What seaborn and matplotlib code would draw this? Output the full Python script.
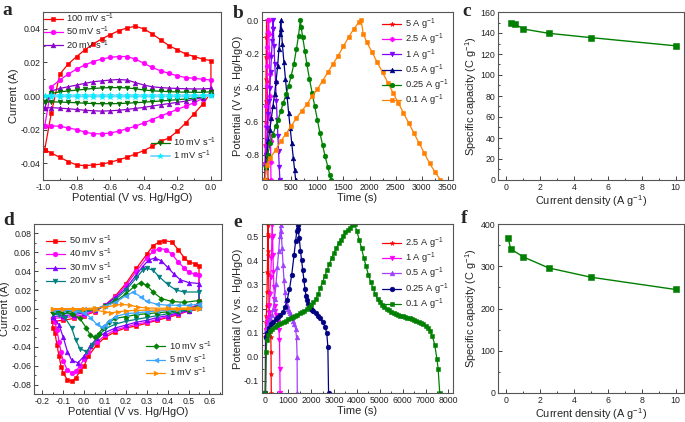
import matplotlib
matplotlib.use("Agg")
import matplotlib.pyplot as plt
import pandas as pd
import seaborn as sns
from matplotlib.ticker import MultipleLocator, AutoMinorLocator

sns.set_style("ticks")
plt.rcParams["font.family"] = ["Liberation Sans", "DejaVu Sans"]
plt.rcParams["mathtext.default"] = "regular"
plt.rcParams["axes.unicode_minus"] = False

# ---------------- panel a : CV, potential grid shared by all loops
pot_a = [-0.99, -0.95, -0.90, -0.85, -0.80, -0.75, -0.70, -0.65, -0.60, -0.55, -0.50,
         -0.45, -0.40, -0.35, -0.30, -0.25, -0.20, -0.15, -0.10, -0.05, 0.0]
a_up_100 = [-0.032, -0.010, 0.013, 0.019, 0.0235, 0.0275, 0.031, 0.034, 0.0365, 0.0388, 0.0405,
            0.0415, 0.040, 0.037, 0.0335, 0.030, 0.0275, 0.025, 0.0235, 0.022, 0.021]
a_dn_100 = [-0.032, -0.034, -0.0365, -0.039, -0.041, -0.0415, -0.041, -0.0405, -0.0395, -0.038, -0.0365,
            -0.0345, -0.0325, -0.030, -0.027, -0.025, -0.021, -0.016, -0.0105, -0.005, 0.002]
a_up_50 = [-0.018, 0.0055, 0.0095, 0.013, 0.016, 0.0185, 0.0205, 0.022, 0.023, 0.0235, 0.0235,
           0.022, 0.0195, 0.017, 0.015, 0.0135, 0.012, 0.011, 0.0105, 0.010, 0.0095]
a_dn_50 = [-0.018, -0.0178, -0.018, -0.019, -0.020, -0.0215, -0.0225, -0.0225, -0.022, -0.021, -0.0195,
           -0.018, -0.016, -0.014, -0.012, -0.010, -0.008, -0.006, -0.004, -0.0015, 0.002]
a_up_20 = [-0.007, 0.003, 0.0045, 0.0055, 0.0065, 0.0075, 0.0085, 0.009, 0.0095, 0.0098, 0.0095,
           0.008, 0.0065, 0.0055, 0.005, 0.0047, 0.0045, 0.0043, 0.0042, 0.0042, 0.0045]
a_dn_20 = [-0.007, -0.007, -0.0072, -0.0076, -0.008, -0.0085, -0.0088, -0.009, -0.0088, -0.0085, -0.008,
           -0.0074, -0.0068, -0.006, -0.0052, -0.0045, -0.0038, -0.003, -0.002, -0.001, 0.001]
a_up_10 = [-0.0035, 0.0015, 0.0025, 0.003, 0.0035, 0.004, 0.0045, 0.0048, 0.005, 0.005, 0.0048,
           0.0043, 0.0036, 0.0031, 0.0028, 0.0026, 0.0024, 0.0023, 0.0022, 0.0022, 0.0025]
a_dn_10 = [-0.0035, -0.0035, -0.0036, -0.0038, -0.004, -0.0043, -0.0045, -0.0046, -0.0046, -0.0045, -0.0043,
           -0.004, -0.0037, -0.0033, -0.003, -0.0026, -0.0022, -0.0018, -0.0012, -0.0006, 0.0005]
a_up_1 = [0.0, 0.0004, 0.0004, 0.0004, 0.0004, 0.0004, 0.0004, 0.0004, 0.0004, 0.0004, 0.0004,
          0.0004, 0.0004, 0.0004, 0.0004, 0.0004, 0.0004, 0.0004, 0.0004, 0.0004, 0.0005]
a_dn_1 = [0.0, -0.0003, -0.0003, -0.0003, -0.0003, -0.0003, -0.0003, -0.0003, -0.0003, -0.0003, -0.0003,
          -0.0003, -0.0003, -0.0003, -0.0003, -0.0003, -0.0003, -0.0003, -0.0002, -0.0001, 0.0002]

# ---------------- panel b : GCD
b_t_5 = [0, 1, 4, 8, 12, 16, 20, 24, 28, 31, 35, 39, 43, 47, 51, 55]
b_v_5 = [-0.95, -0.85, -0.74, -0.61, -0.48, -0.35, -0.22, -0.10, 0.0, -0.08, -0.22, -0.36, -0.50, -0.65, -0.80, -0.95]
b_t_25 = [0, 2, 8, 15, 22, 30, 38, 45, 52, 58, 70, 74, 80, 86, 92, 98, 104, 108, 112]
b_v_25 = [-0.95, -0.85, -0.75, -0.63, -0.51, -0.39, -0.27, -0.16, -0.07, 0.0, 0.0, -0.08, -0.20, -0.32, -0.45,
          -0.58, -0.72, -0.84, -0.95]
b_t_1 = [0, 4, 15, 30, 45, 60, 75, 90, 105, 120, 135, 145, 150, 158, 170, 185, 200, 215, 230, 245, 258, 270, 283]
b_v_1 = [-0.95, -0.87, -0.80, -0.72, -0.64, -0.56, -0.48, -0.40, -0.31, -0.22, -0.12, -0.05, 0.0,
         -0.05, -0.15, -0.26, -0.37, -0.48, -0.59, -0.69, -0.78, -0.87, -0.95]
b_t_05 = [0, 8, 30, 60, 90, 120, 150, 180, 210, 240, 265, 285, 300,
          310, 330, 360, 390, 420, 450, 480, 510, 540, 565, 585]
b_v_05 = [-0.95, -0.87, -0.80, -0.72, -0.65, -0.58, -0.51, -0.44, -0.36, -0.27, -0.17, -0.08, 0.0,
          -0.05, -0.14, -0.25, -0.35, -0.45, -0.55, -0.64, -0.73, -0.82, -0.89, -0.95]
b_t_025 = [0, 15, 50, 100, 150, 200, 250, 300, 350, 400, 450, 500, 550, 600, 640, 675,
           690, 720, 760, 800, 850, 900, 950, 1000, 1050, 1100, 1150, 1200, 1240, 1265]
b_v_025 = [-0.95, -0.87, -0.80, -0.73, -0.68, -0.63, -0.59, -0.54, -0.49, -0.44, -0.39, -0.33, -0.26, -0.17,
           -0.09, 0.0, -0.04, -0.10, -0.18, -0.26, -0.35, -0.43, -0.51, -0.59, -0.67, -0.74, -0.81, -0.87,
           -0.92, -0.95]
b_t_01 = [0, 30, 100, 200, 300, 400, 500, 600, 700, 800, 900, 1000, 1100, 1200, 1300, 1400, 1500, 1600,
          1700, 1800, 1840, 1880, 1950, 2050, 2150, 2250, 2350, 2450, 2550, 2650, 2750, 2850, 2950, 3050,
          3150, 3250, 3360]
b_v_01 = [-0.95, -0.86, -0.82, -0.77, -0.72, -0.675, -0.63, -0.58, -0.54, -0.50, -0.45, -0.41, -0.36,
          -0.31, -0.26, -0.21, -0.155, -0.10, -0.05, -0.01, 0.0, -0.08, -0.13, -0.19, -0.25, -0.31, -0.37,
          -0.43, -0.49, -0.55, -0.61, -0.67, -0.73, -0.79, -0.85, -0.90, -0.95]

# ---------------- panel c / f : rate capability
c_density = [0.25, 0.5, 1, 2.5, 5, 10]
c_capacity = [149.6, 148.5, 143.8, 139.7, 135.6, 127.8]
f_density = [0.1, 0.25, 1, 2.5, 5, 10]
f_capacity = [367, 341, 322, 296, 274, 245]

# ---------------- panel d : CV
d_x_50 = [-0.15, -0.10, -0.05, 0.0, 0.05, 0.10, 0.15, 0.20, 0.25, 0.30, 0.33, 0.36, 0.38, 0.42, 0.45, 0.48,
          0.50, 0.53, 0.55, 0.55, 0.52, 0.50, 0.45, 0.40, 0.35, 0.30, 0.25, 0.20, 0.15, 0.10, 0.06, 0.02,
          0.0, -0.02, -0.04, -0.06, -0.08, -0.10, -0.11, -0.12, -0.13, -0.14, -0.15, -0.15]
d_y_50 = [-0.013, -0.012, -0.010, -0.007, -0.003, 0.004, 0.014, 0.027, 0.043, 0.058, 0.067, 0.071, 0.0725,
          0.071, 0.063, 0.054, 0.050, 0.048, 0.046, 0.008, 0.001, -0.002, -0.006, -0.009, -0.012, -0.015,
          -0.018, -0.020, -0.024, -0.030, -0.038, -0.050, -0.060, -0.066, -0.073, -0.0765, -0.075, -0.068,
          -0.061, -0.050, -0.038, -0.025, -0.020, -0.013]
d_x_40 = [-0.15, -0.10, -0.05, 0.0, 0.05, 0.10, 0.15, 0.20, 0.25, 0.30, 0.33, 0.36, 0.39, 0.42, 0.45, 0.48,
          0.50, 0.53, 0.55, 0.55, 0.50, 0.45, 0.40, 0.35, 0.30, 0.25, 0.20, 0.15, 0.10, 0.06, 0.02, 0.0,
          -0.02, -0.04, -0.06, -0.08, -0.10, -0.11, -0.12, -0.13, -0.14, -0.15]
d_y_40 = [-0.010, -0.009, -0.008, -0.006, -0.002, 0.004, 0.013, 0.025, 0.040, 0.054, 0.061, 0.064, 0.063,
          0.058, 0.050, 0.043, 0.039, 0.037, 0.036, 0.006, -0.002, -0.005, -0.008, -0.011, -0.014, -0.016,
          -0.019, -0.022, -0.028, -0.035, -0.046, -0.053, -0.060, -0.066, -0.0675, -0.065, -0.055, -0.046,
          -0.035, -0.022, -0.014, -0.010]
d_x_30 = [-0.15, -0.10, -0.05, 0.0, 0.05, 0.10, 0.15, 0.20, 0.25, 0.28, 0.31, 0.34, 0.37, 0.40, 0.43, 0.46,
          0.50, 0.55, 0.55, 0.50, 0.45, 0.40, 0.35, 0.30, 0.25, 0.20, 0.15, 0.10, 0.06, 0.03, 0.0, -0.03,
          -0.06, -0.08, -0.10, -0.12, -0.15]
d_y_30 = [-0.008, -0.007, -0.006, -0.004, -0.001, 0.004, 0.012, 0.022, 0.036, 0.045, 0.052, 0.054, 0.051,
          0.044, 0.037, 0.031, 0.028, 0.027, 0.005, -0.002, -0.004, -0.007, -0.009, -0.012, -0.014, -0.017,
          -0.020, -0.025, -0.031, -0.039, -0.050, -0.057, -0.054, -0.045, -0.030, -0.017, -0.008]
d_x_20 = [-0.15, -0.10, -0.05, 0.0, 0.05, 0.10, 0.15, 0.20, 0.25, 0.28, 0.30, 0.33, 0.36, 0.40, 0.44, 0.48,
          0.55, 0.55, 0.50, 0.45, 0.40, 0.35, 0.30, 0.25, 0.20, 0.15, 0.10, 0.07, 0.04, 0.01, -0.02, -0.04,
          -0.06, -0.09, -0.12, -0.15]
d_y_20 = [-0.005, -0.005, -0.004, -0.003, -0.001, 0.003, 0.010, 0.020, 0.033, 0.041, 0.0435, 0.041, 0.034,
          0.026, 0.020, 0.018, 0.018, 0.004, -0.001, -0.003, -0.005, -0.007, -0.009, -0.011, -0.013, -0.016,
          -0.021, -0.028, -0.038, -0.045, -0.042, -0.033, -0.020, -0.010, -0.006, -0.005]
d_x_10 = [-0.15, -0.10, -0.05, 0.0, 0.05, 0.10, 0.15, 0.20, 0.24, 0.27, 0.30, 0.33, 0.37, 0.42, 0.48, 0.55,
          0.55, 0.50, 0.45, 0.40, 0.35, 0.30, 0.25, 0.20, 0.15, 0.12, 0.09, 0.07, 0.05, 0.03, 0.01, -0.02,
          -0.06, -0.10, -0.15]
d_y_10 = [-0.003, -0.003, -0.002, -0.002, 0.0, 0.003, 0.008, 0.016, 0.024, 0.028, 0.025, 0.018, 0.011,
          0.008, 0.007, 0.009, 0.002, -0.001, -0.002, -0.003, -0.004, -0.005, -0.006, -0.008, -0.010,
          -0.014, -0.020, -0.026, -0.030, -0.028, -0.020, -0.010, -0.005, -0.003, -0.003]
d_x_5 = [-0.15, -0.10, -0.05, 0.0, 0.05, 0.10, 0.15, 0.20, 0.235, 0.27, 0.30, 0.35, 0.40, 0.45, 0.50, 0.55,
         0.55, 0.50, 0.45, 0.40, 0.35, 0.30, 0.25, 0.20, 0.15, 0.12, 0.10, 0.085, 0.06, 0.03, 0.0, -0.05,
         -0.10, -0.15]
d_y_5 = [-0.001, -0.001, -0.001, -0.0005, 0.0005, 0.003, 0.007, 0.014, 0.018, 0.013, 0.008, 0.005, 0.004,
         0.004, 0.004, 0.005, 0.001, -0.0005, -0.001, -0.0015, -0.002, -0.003, -0.004, -0.005, -0.008,
         -0.013, -0.017, -0.019, -0.016, -0.009, -0.004, -0.002, -0.001, -0.001]
d_x_1 = [-0.15, -0.10, -0.05, 0.0, 0.05, 0.10, 0.15, 0.18, 0.22, 0.26, 0.30, 0.40, 0.50, 0.55,
         0.55, 0.45, 0.35, 0.25, 0.20, 0.16, 0.13, 0.10, 0.05, 0.0, -0.05, -0.10, -0.15]
d_y_1 = [0.0, 0.0, 0.0, 0.0005, 0.001, 0.002, 0.004, 0.005, 0.004, 0.002, 0.001, 0.0008, 0.001, 0.0015,
         0.0, -0.0005, -0.001, -0.0015, -0.002, -0.003, -0.004, -0.003, -0.001, 0.0, 0.0, 0.0, 0.0]

# ---------------- panel e : GCD
e_t_25 = [0, 3, 10, 25, 40, 55, 70, 85, 100, 112, 120, 125, 133, 141, 149, 157, 167, 180, 195, 210, 225,
          237, 245, 250, 255]
e_v_25 = [-0.15, 0.08, 0.11, 0.14, 0.17, 0.21, 0.27, 0.35, 0.44, 0.51, 0.545, 0.50, 0.42, 0.34, 0.27, 0.22,
          0.19, 0.17, 0.15, 0.13, 0.11, 0.08, 0.02, -0.07, -0.15]
e_t_1 = [0, 5, 20, 50, 80, 110, 140, 170, 200, 230, 260, 285, 300, 310, 330, 350, 370, 390, 410, 440, 470,
         500, 530, 560, 590, 615, 630, 640]
e_v_1 = [-0.15, 0.08, 0.11, 0.13, 0.145, 0.16, 0.18, 0.21, 0.26, 0.33, 0.41, 0.49, 0.545, 0.50, 0.42, 0.35,
         0.29, 0.24, 0.21, 0.19, 0.175, 0.16, 0.145, 0.13, 0.11, 0.07, -0.05, -0.15]
e_t_05 = [0, 10, 40, 100, 160, 220, 280, 340, 400, 460, 520, 580, 630, 670, 690, 730, 770, 810, 850, 890,
          930, 970, 1020, 1070, 1120, 1170, 1220, 1270, 1320, 1360, 1385, 1392]
e_v_05 = [-0.15, 0.08, 0.11, 0.13, 0.145, 0.16, 0.175, 0.20, 0.24, 0.30, 0.37, 0.44, 0.50, 0.545, 0.52,
          0.45, 0.38, 0.32, 0.27, 0.235, 0.215, 0.20, 0.19, 0.18, 0.17, 0.16, 0.15, 0.135, 0.115, 0.08, 0.0,
          -0.15]
e_t_025 = [0, 20, 60, 150, 250, 350, 450, 550, 650, 750, 850, 950, 1050, 1150, 1250, 1320, 1370, 1405,
           1430, 1480, 1530, 1580, 1630, 1680, 1730, 1780, 1830, 1880, 1930, 1980, 2030, 2100, 2200, 2300,
           2400, 2500, 2600, 2680, 2730, 2760]
e_v_025 = [-0.15, 0.08, 0.10, 0.12, 0.135, 0.145, 0.155, 0.163, 0.172, 0.185, 0.205, 0.235, 0.28, 0.34,
           0.42, 0.48, 0.52, 0.545, 0.53, 0.49, 0.44, 0.40, 0.36, 0.32, 0.28, 0.25, 0.235, 0.22, 0.21, 0.20,
           0.195, 0.19, 0.18, 0.17, 0.16, 0.145, 0.125, 0.10, 0.04, -0.15]
e_t_01 = [0, 30, 60, 120, 200, 300, 400, 500, 600, 700, 800, 900, 1000, 1100, 1200, 1300, 1400, 1500,
          1600, 1700, 1800, 1900, 2000, 2100, 2200, 2300, 2400, 2500, 2600, 2700, 2800, 2900, 3000, 3100,
          3200, 3300, 3400, 3500, 3600, 3700, 3800, 3900, 4000, 4100, 4200, 4300, 4400, 4500, 4600, 4700,
          4800, 4900, 5000, 5100, 5200, 5300, 5400, 5500, 5600, 5700, 5800, 5900, 6000, 6100, 6200, 6300,
          6400, 6500, 6600, 6700, 6800, 6900, 7000, 7100, 7200, 7300, 7400, 7500, 7550, 7620]
e_v_01 = [-0.15, 0.02, 0.07, 0.09, 0.105, 0.115, 0.125, 0.13, 0.135, 0.14, 0.145, 0.15, 0.155, 0.16,
          0.165, 0.17, 0.175, 0.18, 0.185, 0.19, 0.198, 0.206, 0.215, 0.226, 0.24, 0.26, 0.285, 0.31, 0.335,
          0.36, 0.385, 0.41, 0.43, 0.45, 0.47, 0.485, 0.50, 0.515, 0.525, 0.535, 0.545, 0.55, 0.52, 0.485,
          0.45, 0.41, 0.375, 0.34, 0.31, 0.285, 0.26, 0.24, 0.225, 0.213, 0.205, 0.198, 0.192, 0.187, 0.183,
          0.179, 0.175, 0.171, 0.168, 0.165, 0.162, 0.159, 0.156, 0.153, 0.149, 0.145, 0.14, 0.134, 0.127,
          0.118, 0.105, 0.085, 0.05, -0.01, -0.05, -0.15]


def draw(ax, x, y, color, marker, label, ms=3.2, lw=0.9, lc=None):
    df = pd.DataFrame({"x": x, "y": y})
    sns.lineplot(data=df, x="x", y="y", ax=ax, sort=False, estimator=None,
                 color=lc or color, marker=marker, markersize=ms, linewidth=lw,
                 markerfacecolor=color, markeredgecolor=color, markeredgewidth=0.4,
                 label=label)


def loop(grid, up, dn):
    return grid + grid[::-1], up + dn[::-1]


def rect(l, t, r, b):
    return [l / 685, 1 - b / 422, (r - l) / 685, (b - t) / 422]


def style(ax):
    ax.tick_params(which="both", direction="in", labelsize=6.3, pad=2, width=0.6,
                   colors="#222222", top=False, right=False)
    ax.tick_params(which="major", length=3)
    ax.tick_params(which="minor", length=1.6)
    ax.xaxis.set_minor_locator(AutoMinorLocator(2))
    ax.yaxis.set_minor_locator(AutoMinorLocator(2))
    for s in ax.spines.values():
        s.set_linewidth(0.8)
        s.set_color("#555555")


def legend(ax, handles, labels, **kw):
    return ax.legend(handles, labels, frameon=False, fontsize=6.7, handlelength=2.0,
                     handletextpad=0.4, labelspacing=0.0, borderpad=0.2, borderaxespad=0.3, **kw)


fig = plt.figure(figsize=(6.85, 4.22), dpi=100)
lab_fs = 7.9
ms_unit = " mV s$^{-1}$"
ag_unit = " A g$^{-1}$"

# ---- a
ax = fig.add_axes(rect(43, 12, 221, 180))
for up, dn, c, m, lab, lc in [
        (a_up_100, a_dn_100, "#FF0000", "s", "100", None),
        (a_up_50, a_dn_50, "#FF00FF", "o", "50", None),
        (a_up_20, a_dn_20, "#8B00C8", "^", "20", None),
        (a_up_10, a_dn_10, "#007000", "v", "10", None),
        (a_up_1, a_dn_1, "#00F0FF", "*", "1", "#7FD6FF")]:
    x, y = loop(pot_a, up, dn)
    draw(ax, x, y, c, m, lab + ms_unit, ms=3.4 if m != "*" else 4.2, lw=1.4 if lc else 0.9, lc=lc)
ax.set_xlim(-1.0, 0.06)
ax.set_ylim(-0.05, 0.05)
ax.xaxis.set_major_locator(MultipleLocator(0.2))
ax.yaxis.set_major_locator(MultipleLocator(0.02))
ax.set_xlabel("Potential (V vs. Hg/HgO)", fontsize=lab_fs, labelpad=1)
ax.set_ylabel("Current (A)", fontsize=lab_fs, labelpad=1)
style(ax)
h, l = ax.get_legend_handles_labels()
leg1 = legend(ax, h[:3], l[:3], loc="upper left", bbox_to_anchor=(-0.02, 1.03))
ax.add_artist(leg1)
legend(ax, h[3:], l[3:], loc="lower right", bbox_to_anchor=(1.0, 0.08))

# ---- b
ax = fig.add_axes(rect(262, 12, 453, 180))
for t, v, c, m, lab in [
        (b_t_5, b_v_5, "#FF0000", "*", "5"),
        (b_t_25, b_v_25, "#FF00FF", "P", "2.5"),
        (b_t_1, b_v_1, "#8000FF", "v", "1"),
        (b_t_05, b_v_05, "#000080", "^", "0.5"),
        (b_t_025, b_v_025, "#008000", "o", "0.25"),
        (b_t_01, b_v_01, "#FF8000", "s", "0.1")]:
    draw(ax, t, v, c, m, lab + ag_unit, ms=3.4)
ax.set_xlim(-60, 3600)
ax.set_ylim(-0.95, 0.05)
ax.xaxis.set_major_locator(MultipleLocator(500))
ax.yaxis.set_major_locator(MultipleLocator(0.2))
ax.yaxis.set_major_formatter(lambda v, p: f"{v:.1f}")
ax.set_xlabel("Time (s)", fontsize=lab_fs, labelpad=1)
ax.set_ylabel("Potential (V vs. Hg/HgO)", fontsize=lab_fs, labelpad=1)
style(ax)
h, l = ax.get_legend_handles_labels()
legend(ax, h, l, loc="upper right", bbox_to_anchor=(1.0, 1.0))

# ---- c
ax = fig.add_axes(rect(498, 12, 684, 180))
draw(ax, c_density, c_capacity, "#007F00", "s", None, ms=4, lw=1.0)
ax.set_xlim(-0.5, 10.5)
ax.set_ylim(0, 160)
ax.xaxis.set_major_locator(MultipleLocator(2))
ax.yaxis.set_major_locator(MultipleLocator(20))
ax.set_xlabel("Current density (A g$^{-1}$)", fontsize=lab_fs, labelpad=1)
ax.set_ylabel("Specific capacity (C g$^{-1}$)", fontsize=lab_fs, labelpad=1)
style(ax)
if ax.get_legend():
    ax.get_legend().remove()

# ---- d
ax = fig.add_axes(rect(34, 224, 222, 394))
for x, y, c, m, lab in [
        (d_x_50, d_y_50, "#FF0000", "s", "50"),
        (d_x_40, d_y_40, "#FF00FF", "o", "40"),
        (d_x_30, d_y_30, "#8000FF", "^", "30"),
        (d_x_20, d_y_20, "#007F7F", "v", "20"),
        (d_x_10, d_y_10, "#008000", "D", "10"),
        (d_x_5, d_y_5, "#3DA5FF", "<", "5"),
        (d_x_1, d_y_1, "#FF8C00", ">", "1")]:
    draw(ax, x, y, c, m, lab + ms_unit, ms=3.4 if m != "D" else 2.8)
ax.set_xlim(-0.24, 0.66)
ax.set_ylim(-0.09, 0.09)
ax.xaxis.set_major_locator(MultipleLocator(0.1))
ax.yaxis.set_major_locator(MultipleLocator(0.02))
ax.xaxis.set_major_formatter(lambda v, p: f"{v:.1f}")
ax.set_xlabel("Potential (V vs. Hg/HgO)", fontsize=lab_fs, labelpad=1)
ax.set_ylabel("Current (A)", fontsize=lab_fs, labelpad=1)
style(ax)
h, l = ax.get_legend_handles_labels()
leg1 = legend(ax, h[:4], l[:4], loc="upper left", bbox_to_anchor=(0.04, 0.97))
ax.add_artist(leg1)
legend(ax, h[4:], l[4:], loc="lower right", bbox_to_anchor=(0.97, 0.06))

# ---- e
ax = fig.add_axes(rect(262, 224, 453, 393))
for t, v, c, m, lab in [
        (e_t_25, e_v_25, "#FF0000", "*", "2.5"),
        (e_t_1, e_v_1, "#FF00FF", "v", "1"),
        (e_t_05, e_v_05, "#A040FF", "^", "0.5"),
        (e_t_025, e_v_025, "#000080", "o", "0.25"),
        (e_t_01, e_v_01, "#008000", "s", "0.1")]:
    draw(ax, t, v, c, m, lab + ag_unit, ms=3.4)
ax.set_xlim(-150, 8200)
ax.set_ylim(-0.15, 0.55)
ax.xaxis.set_major_locator(MultipleLocator(1000))
ax.yaxis.set_major_locator(MultipleLocator(0.1))
ax.yaxis.set_major_formatter(lambda v, p: f"{v:.1f}")
ax.set_xlabel("Time (s)", fontsize=lab_fs, labelpad=1)
ax.set_ylabel("Potential (V vs. Hg/HgO)", fontsize=lab_fs, labelpad=1)
style(ax)
h, l = ax.get_legend_handles_labels()
legend(ax, h, l, loc="upper right", bbox_to_anchor=(1.0, 0.96))

# ---- f
ax = fig.add_axes(rect(498, 224, 684, 393))
draw(ax, f_density, f_capacity, "#007F00", "s", None, ms=4, lw=1.0)
ax.set_xlim(-0.5, 10.5)
ax.set_ylim(0, 400)
ax.xaxis.set_major_locator(MultipleLocator(2))
ax.yaxis.set_major_locator(MultipleLocator(100))
ax.set_xlabel("Current density (A g$^{-1}$)", fontsize=lab_fs, labelpad=1)
ax.set_ylabel("Specific capacity (C g$^{-1}$)", fontsize=lab_fs, labelpad=1)
style(ax)
if ax.get_legend():
    ax.get_legend().remove()

for letter, x, y in [("a", 2, 15), ("b", 233, 18), ("c", 462, 16),
                     ("d", 3, 225), ("e", 233, 227), ("f", 461, 223)]:
    fig.text(x / 685, 1 - y / 422, letter, fontsize=14, fontweight="bold",
             family="Liberation Serif", va="baseline", ha="left")

fig.savefig("out.png", dpi=100)
